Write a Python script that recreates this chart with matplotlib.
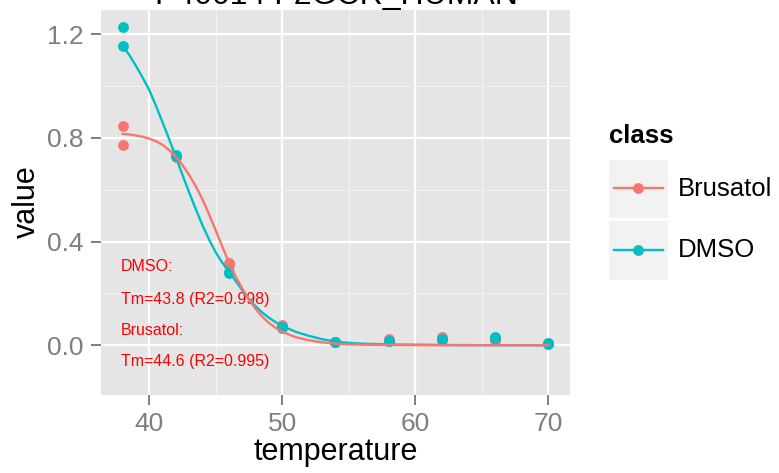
import matplotlib
matplotlib.use("Agg")
from matplotlib import pyplot as plt
from matplotlib.patches import Rectangle
from matplotlib.lines import Line2D

plt.rcParams['font.family'] = ['Liberation Sans', 'DejaVu Sans']

# measured points (two replicates per temperature)
temps = [38, 42, 46, 50, 54, 58, 62, 66, 70]
brusatol_rep1 = [0.846, 0.730, 0.317, 0.078, 0.014, 0.023, 0.031, 0.020, 0.008]
brusatol_rep2 = [0.772, 0.725, 0.310, 0.072, 0.012, 0.018, 0.027, 0.022, 0.006]
dmso_rep1 = [1.228, 0.734, 0.284, 0.072, 0.013, 0.018, 0.023, 0.031, 0.008]
dmso_rep2 = [1.154, 0.728, 0.280, 0.068, 0.011, 0.015, 0.020, 0.028, 0.006]

# fitted melting curves
curve_temps = [38, 38.5, 39, 39.5, 40, 40.5, 41, 41.5, 42, 42.5, 43, 43.5, 44, 44.5,
               45, 45.5, 46, 46.5, 47, 47.5, 48, 48.5, 49, 49.5, 50, 51, 52, 53,
               54, 55, 56, 58, 62, 66, 70]
dmso_fit = [1.155, 1.120, 1.078, 1.033, 0.985, 0.925, 0.860, 0.795, 0.727, 0.657,
            0.590, 0.525, 0.463, 0.408, 0.358, 0.318, 0.284, 0.248, 0.212, 0.178,
            0.150, 0.126, 0.106, 0.089, 0.074, 0.052, 0.036, 0.023, 0.014, 0.009,
            0.006, 0.003, 0.001, 0.0, 0.0]
brusatol_fit = [0.815, 0.813, 0.809, 0.804, 0.797, 0.787, 0.773, 0.753, 0.727, 0.695,
                0.657, 0.613, 0.563, 0.505, 0.443, 0.380, 0.318, 0.265, 0.218, 0.176,
                0.140, 0.110, 0.086, 0.067, 0.052, 0.031, 0.019, 0.011, 0.006, 0.003,
                0.002, 0.001, 0.0, 0.0, 0.0]

classes = ["Brusatol", "DMSO"]
annotation_lines = ["DMSO:", "Tm=43.8 (R2=0.998)", "Brusatol:", "Tm=44.6 (R2=0.995)"]
title = "P40014 F2GCR_HUMAN"

red = "#F8766D"
cyan = "#00BFC4"
tick_grey = "#7F7F7F"

W, H = 779, 473
fig = plt.figure(figsize=(W / 100, H / 100), dpi=100)

# panel in pixel coordinates
px_left, px_right, px_top, px_bottom = 101, 570, 10, 395
ax = fig.add_axes([px_left / W, 1 - px_bottom / H,
                   (px_right - px_left) / W, (px_bottom - px_top) / H])
ax.set_facecolor("#E5E5E5")
for s in ax.spines.values():
    s.set_visible(False)

ax.set_xlim(36.38, 71.62)
ax.set_ylim(-0.192, 1.293)
ax.set_xticks([40, 50, 60, 70])
ax.set_xticks([45, 55, 65], minor=True)
ax.set_yticks([0.0, 0.4, 0.8, 1.2])
ax.set_yticklabels(["0.0", "0.4", "0.8", "1.2"])
ax.set_yticks([0.2, 0.6, 1.0], minor=True)
ax.grid(which="major", color="white", lw=1.6)
ax.grid(which="minor", color="#F2F2F2", lw=0.8)
ax.set_axisbelow(True)
ax.tick_params(which="major", length=7.5, width=1.4, color=tick_grey,
               labelcolor=tick_grey, labelsize=19, pad=5)
ax.tick_params(which="minor", length=0)

# points
for y in (brusatol_rep1, brusatol_rep2):
    ax.plot(temps, y, "o", color=red, ms=7.8, mec="none", zorder=3)
for y in (dmso_rep1, dmso_rep2):
    ax.plot(temps, y, "o", color=cyan, ms=7.8, mec="none", zorder=3)

# curves
ax.plot(curve_temps, dmso_fit, color=cyan, lw=1.7, zorder=4,
        solid_joinstyle="round")
ax.plot(curve_temps, brusatol_fit, color=red, lw=1.7, zorder=4,
        solid_joinstyle="round")

# annotations
ann_y = [0.305, 0.177, 0.056, -0.064]
for txt, yy in zip(annotation_lines, ann_y):
    ax.text(37.9, yy, txt, color="red", fontsize=11.5, ha="left", va="center")

# axis titles
fig.text((px_left + px_right) / 2 / W, 1 - 452 / H, "temperature",
         ha="center", va="center", fontsize=22)
fig.text(27 / W, 1 - 202 / H, "value", ha="center", va="center",
         rotation=90, fontsize=22)

# title, clipped at the top edge like the reference
fig.text(336 / W, 1 - 3.5 / H, title, ha="center", va="baseline", fontsize=23)

# legend
lg = fig.add_axes([0, 0, 1, 1])
lg.set_xlim(0, W)
lg.set_ylim(H, 0)
lg.axis("off")
lg.patch.set_alpha(0)
lg.text(609, 136, "class", fontsize=18.5, fontweight="bold", ha="left", va="center")
key_tops = [159.5, 221]
for cls, col, top in zip(classes, [red, cyan], key_tops):
    lg.add_patch(Rectangle((609, top), 59, 58.5, facecolor="#F2F2F2", edgecolor="none"))
    yc = top + 29
    lg.add_line(Line2D([614, 663], [yc, yc], color=col, lw=1.7))
    lg.plot([638.5], [yc], "o", color=col, ms=7.8, mec="none")
    lg.text(678, yc, cls, fontsize=18.5, ha="left", va="center")

fig.savefig("out.png", dpi=100)
